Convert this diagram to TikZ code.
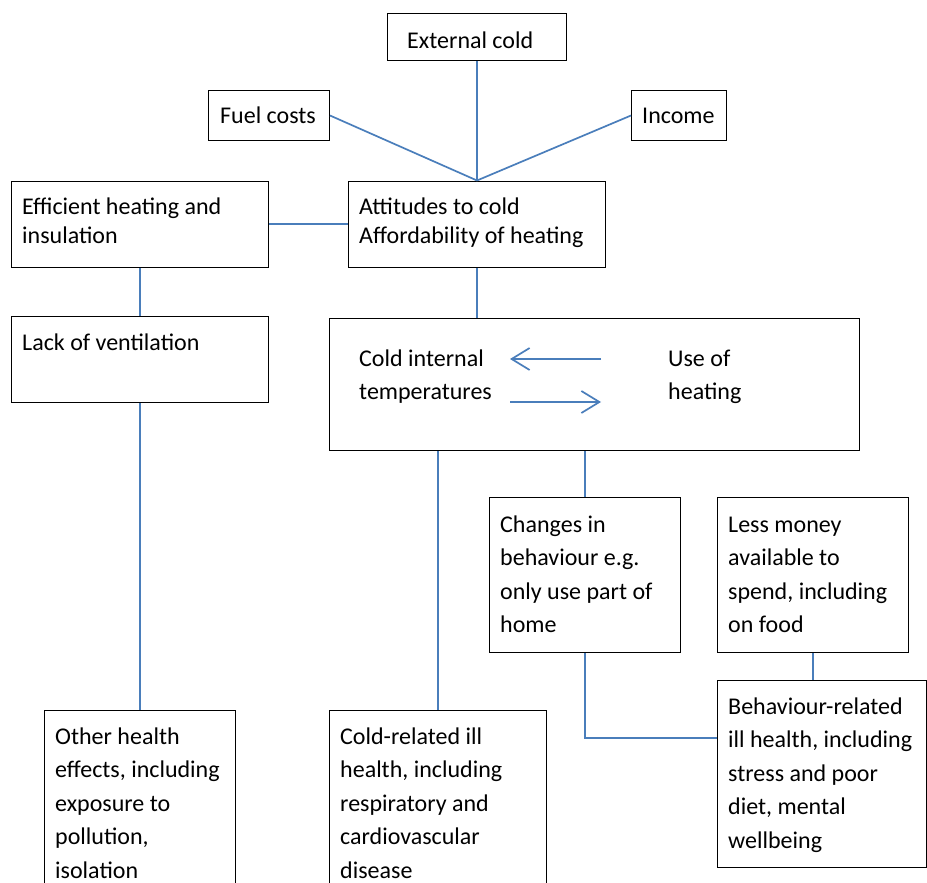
\documentclass[tikz,border=0pt]{standalone}
\usepackage{fontspec}
\setmainfont{Carlito}
\usetikzlibrary{arrows.meta}
\definecolor{linkblue}{HTML}{4A7EBB}
\tikzset{
  box/.style={draw=black, line width=1pt, inner sep=0pt, anchor=north west, fill=white},
  lbl/.style={anchor=base west, inner sep=0pt, align=left, font=\fontsize{24}{29}\selectfont},
  lbltall/.style={anchor=base west, inner sep=0pt, align=left, font=\fontsize{24}{33.5}\selectfont},
  link/.style={draw=linkblue, line width=1.7pt},
  flow/.style={draw=linkblue, line width=1.7pt, -{Straight Barb[length=18pt,width=22pt,line width=1.7pt]}}
}
\begin{document}
\begin{tikzpicture}[x=1pt,y=-1pt]
\useasboundingbox (0,0) rectangle (927,883);
\clip (0,0) rectangle (927,883);
% boxes
\node[box, minimum width=179pt, minimum height=47pt] (ext) at (387,13) {};
\node[box, minimum width=121pt, minimum height=50pt] (fuel) at (208,90) {};
\node[box, minimum width=95pt, minimum height=50pt] (inc) at (631,90) {};
\node[box, minimum width=257pt, minimum height=86pt] (eff) at (11,180.5) {};
\node[box, minimum width=257pt, minimum height=86pt] (att) at (348,180.5) {};
\node[box, minimum width=257pt, minimum height=86pt] (lack) at (11,316) {};
\node[box, minimum width=530pt, minimum height=132pt] (mid) at (329,318) {};
\node[box, minimum width=191pt, minimum height=155pt] (chg) at (489,497) {};
\node[box, minimum width=191pt, minimum height=155pt] (less) at (717,497) {};
\node[box, minimum width=209pt, minimum height=187pt] (beh) at (717,680) {};
\node[box, minimum width=191pt, minimum height=220pt] (oth) at (44,710) {};
\node[box, minimum width=217pt, minimum height=220pt] (crd) at (329,710) {};

% connectors
\draw[link] (ext.south) -- (att.north);
\draw[link] (fuel.east) -- (att.north);
\draw[link] (inc.west) -- (att.north);
\draw[link] (eff.east) -- (att.west);
\draw[link] (eff.south) -- (lack.north);
\draw[link] (att.south) -- (att.south |- mid.north);
\draw[link] (lack.south) -- (oth.north);
\draw[link] (crd.north |- mid.south) -- (crd.north);
\draw[link] (chg.north |- mid.south) -- (chg.north);
\draw[link] (chg.south) |- ([yshift=-58pt]beh.north west);
\draw[link] (less.south) -- (less.south |- beh.north);

% texts (anchor = baseline of the last line)
\node[lbl] (text) at (407,49) {External cold};
\node[lbl] (tfuel) at (220,124) {Fuel costs};
\node[lbl] (tinc) at (642,124) {Income};
\node[lbl] (teff) at (22,243) {Efficient heating and\\insulation};
\node[lbl] (tatt) at (359,243) {Attitudes to cold\\Affordability of heating};
\node[lbl] (tlack) at (22,350) {Lack of ventilation};
\node[lbltall] (tcold) at (359,399.5) {Cold internal\\temperatures};
\node[lbltall] (tuse) at (668,399.5) {Use of\\heating};
\node[lbltall] (tchg) at (500,632.5) {Changes in\\behaviour e.g.\\only use part of\\home};
\node[lbltall] (tless) at (728,632.5) {Less money\\available to\\spend, including\\on food};
\node[lbltall] (tbeh) at (728,848) {Behaviour-related\\ill health, including\\stress and poor\\diet, mental\\wellbeing};
\node[lbltall] (toth) at (55,878) {Other health\\effects, including\\exposure to\\pollution,\\isolation};
\node[lbltall] (tcrd) at (340,878) {Cold-related ill\\health, including\\respiratory and\\cardiovascular\\disease};

% arrows between the two middle texts
\coordinate (a1) at (601,359);
\coordinate (a2) at (510,359);
\coordinate (a3) at (510,402);
\coordinate (a4) at (601,402);
\draw[flow] (a1) -- (a2);
\draw[flow] (a3) -- (a4);
\end{tikzpicture}
\end{document}
